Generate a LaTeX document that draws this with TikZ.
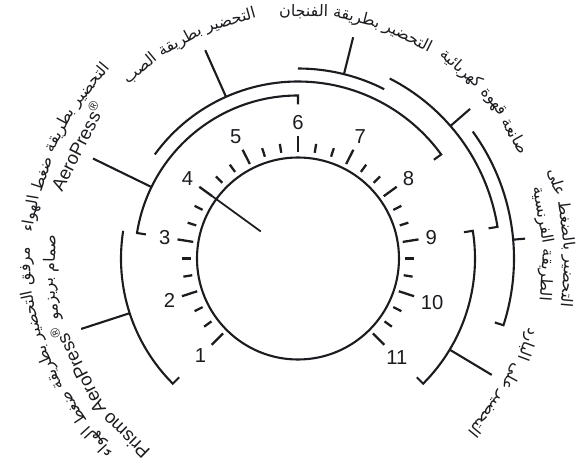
\documentclass[tikz,border=0pt]{standalone}
\usepackage{fontspec}
\setmainfont{Liberation Sans}
\newfontfamily\arabicfont[Script=Arabic, Scale=0.86]{DejaVu Sans}
\TeXXeTstate=1
\usetikzlibrary{positioning}
\definecolor{ink}{HTML}{1A1C20}
\newcommand\labelfont{\fontsize{10.5}{12}\selectfont}
\newcommand\ar[1]{{\arabicfont\beginR#1\endR}}
\tikzset{
  dial/.style={draw=ink, line width=1.2pt},
  dialtick/.style={dial, line width=1.3pt},
  dialnum/.style={font=\fontsize{11.5}{13}\selectfont, text=ink, inner sep=1pt},
  arcword/.style={font=\labelfont, text=ink, inner sep=0pt},
}
\newsavebox\wordbox
\newlength\wordwd
\newcommand\pxunit{0.5691}
\newcommand\wordgap{3}
\newcommand\measureword[1]{%
  \sbox\wordbox{\pgfinterruptpicture\labelfont#1\endpgfinterruptpicture}%
  \setlength\wordwd{\wd\wordbox}}

% one line of a label, word by word round the dial (words from right to left)
\newcommand\arcline[4]{%
  \gdef\linewd{0}%
  \foreach \w in {#4}{%
    \measureword{\w}%
    \pgfmathparse{\linewd+\wordwd+\wordgap}\xdef\linewd{\pgfmathresult}}%
  \pgfmathparse{#2-(\linewd-\wordgap)/2/(#3*\pxunit)*180/pi}\xdef\curang{\pgfmathresult}%
  \foreach \w [count=\i] in {#4}{%
    \measureword{\w}%
    \pgfmathsetmacro\midang{\curang+\wordwd/2/(#3*\pxunit)*180/pi}%
    \node[arcword, rotate=\midang-90] (#1-\i) at (\midang:#3) {\w};
    \pgfmathparse{\curang+(\wordwd+\wordgap)/(#3*\pxunit)*180/pi}\xdef\curang{\pgfmathresult}}%
}
% range of one method: start, end, radius, hook at start, hook at end
\newcommand\rangearc[5]{%
  \draw[dial] ({#1}:{#3-#4}) -- (#1:#3) arc[start angle=#1, end angle=#2, radius=#3] -- ({#2}:{#3-#5});}

\begin{document}
\begin{tikzpicture}[x=0.02cm, y=0.02cm]
  \useasboundingbox (-298,-208.5) rectangle (285,258.5);
  \draw[dial] (0,0) circle[radius=101];
  % scale
  \foreach \k in {0,...,30}{
    \pgfmathsetmacro\a{225-9*\k}
    \pgfmathtruncatemacro\m{mod(\k,3)}
    \ifnum\m=0
      \draw[dialtick] (\a:106) -- (\a:122);
    \else
      \draw[dialtick] (\a:107) -- (\a:116);
    \fi
  }
  \foreach \n in {1,...,11}{
    \pgfmathtruncatemacro\a{225-27*(\n-1)}
    \pgfmathtruncatemacro\b{\a+180}
    \node[dialnum, anchor=\b] (n\n) at (\a:127) {\n};
  }
  \draw[dial, line width=1pt] (144:46) -- (144:106);

  % ranges
  \rangearc{171}{90}{163}{9}{9}
  \rangearc{144}{36}{177}{0}{9}
  \rangearc{90}{63}{190}{0}{0}
  \rangearc{63}{9}{202}{0}{9}
  \rangearc{36}{-18}{216}{0}{9}
  \rangearc{9}{-45}{177}{9}{9}
  \rangearc{171}{225}{177}{0}{9}

  % leaders
  \draw[dial] (154:163) -- (154:228);
  \draw[dial] (114:177) -- (114:228);
  \draw[dial] (76:190) -- (76:228);
  \draw[dial] (41:202) -- (41:228);
  \draw[dial] (5:216) -- (5:228);
  \draw[dial] (-31:177) -- (-31:226);
  \draw[dial] (198:177) -- (198:228);

  % labels
  \arcline{cup}{76}{247}{\ar{التحضير},\ar{بطريقة},\ar{الفنجان}}
  \arcline{pour}{117}{247}{\ar{التحضير},\ar{بطريقة},\ar{الصب}}
  \arcline{elec}{40}{250}{\ar{صانعة},\ar{قهوة},\ar{كهربائية}}
  \arcline{aero}{154.5}{270}{\ar{التحضير},\ar{بطريقة},\ar{ضغط},\ar{الهواء}}
  \arcline{aerob}{153}{248}{AeroPress\textsuperscript{®}}
  \arcline{french}{4.5}{270}{\ar{التحضير},\ar{بالضغط},\ar{على}}
  \arcline{frenchb}{3.5}{248}{\ar{الطريقة},\ar{الفرنسية}}
  \arcline{cold}{-31}{245}{\ar{التحضير},\ar{على},\ar{البارد}}
  \arcline{prismo}{202}{271}{\ar{مرفق},\ar{التحضير},\ar{بطريقة},\ar{ضغط},\ar{الهواء}}
  \arcline{prismob}{203.5}{247}{\ar{صمام},\ar{بريزمو},AeroPress\textsuperscript{®},Prismo}
\end{tikzpicture}
\end{document}
